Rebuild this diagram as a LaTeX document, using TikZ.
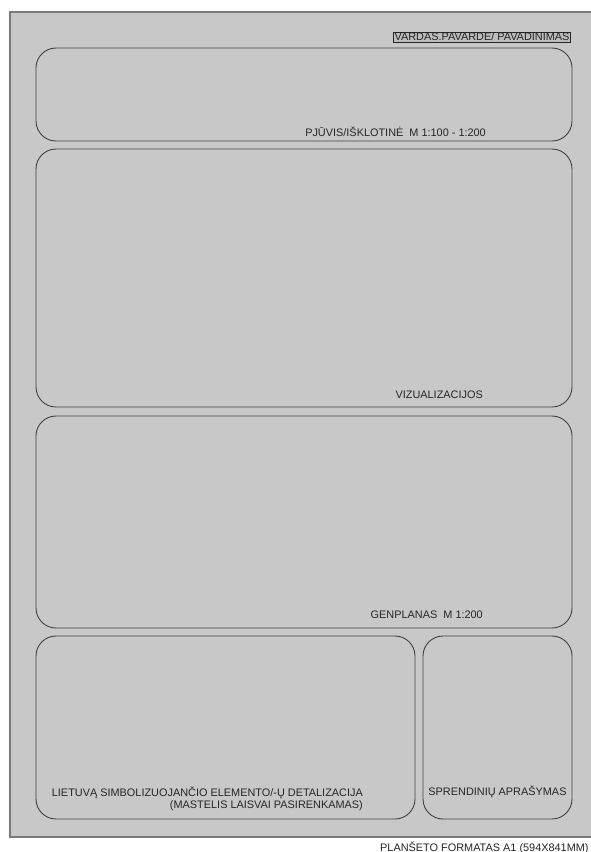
\documentclass[tikz,border=0pt]{standalone}
\usepackage{fontspec}
\setmainfont{Liberation Sans}
\usetikzlibrary{positioning, calc}
\definecolor{sheetgray}{HTML}{C8C8C8}
\definecolor{framegray}{HTML}{7A7A7A}

\begin{document}
\begin{tikzpicture}[
  x=1pt, y=-1pt,
  font=\fontsize{10.9}{12.5}\selectfont,
  sheet/.style={fill=sheetgray, draw=framegray, line width=1.2pt},
  panel/.style={draw=black!75, line width=0.9pt, rounded corners=20pt, inner sep=0pt},
  caption/.style={inner sep=0pt, text=black!85},
  titlebox/.style={draw=black!85, fill=black!26, line width=0.8pt,
    inner xsep=1pt, inner ysep=1pt, text height=7.9pt, text depth=0pt, text=black!85},
]

\useasboundingbox (0,0) rectangle (590,852);
\fill[white] (0,0) rectangle (590,852);
\draw[sheet] (10,12) rectangle (598,837);

\node[panel, minimum width=536pt, minimum height=93pt] (section) at (304,94.5) {};
\node[panel, minimum width=536pt, minimum height=258pt] (visual) at (304,278) {};
\node[panel, minimum width=536pt, minimum height=212pt] (masterplan) at (304,522) {};
\node[panel, minimum width=379pt, minimum height=183pt] (detail) at (225.5,727.5) {};
\node[panel, minimum width=149pt, minimum height=183pt] (solution) at (497.5,727.5) {};

\node[titlebox] (title) at (482,37) {VARDAS.PAVARDE/ PAVADINIMAS};

\node[caption, anchor=base east] (sectionlbl) at (486,136) {PJŪVIS/IŠKLOTINĖ\ \ M 1:100 - 1:200};
\node[caption, anchor=base east] (visuallbl) at (483,398) {VIZUALIZACIJOS};
\node[caption, anchor=base east] (masterplanlbl) at (483,618) {GENPLANAS\ \ M 1:200};
\node[caption, anchor=east, align=right] (detaillbl) at (363,799)
  {LIETUVĄ SIMBOLIZUOJANČIO ELEMENTO/-Ų DETALIZACIJA\\(MASTELIS LAISVAI PASIRENKAMAS)};
\node[caption, anchor=base] (solutionlbl) at (497.5,795) {SPRENDINIŲ APRAŠYMAS};

\node[caption, anchor=base west] (format) at (380,851) {PLANŠETO FORMATAS A1 (594X841MM)};

\end{tikzpicture}
\end{document}
